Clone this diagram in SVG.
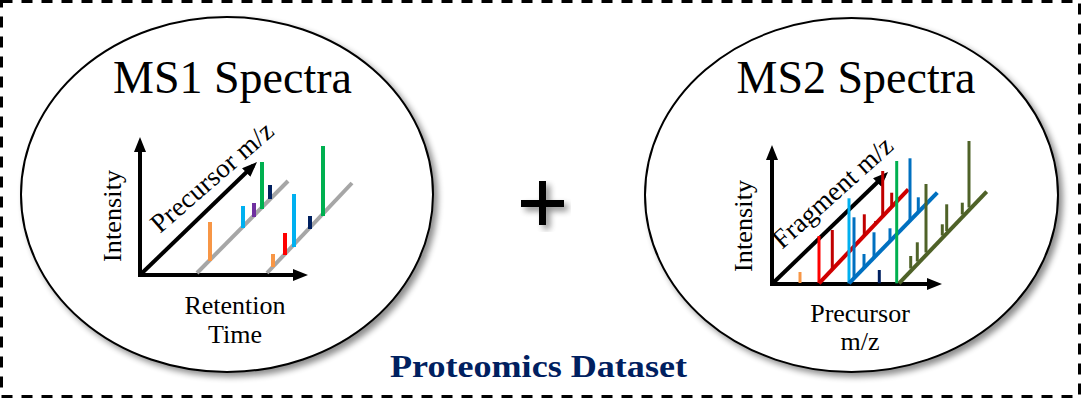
<svg xmlns="http://www.w3.org/2000/svg" width="1083" height="406" viewBox="0 0 1083 406">
  <style>
    .title { font-family: "Liberation Serif", "Times New Roman", serif; font-size: 46px; fill: #000; text-anchor: middle; }
    .lbl { font-family: "Liberation Serif", "Times New Roman", serif; font-size: 26px; fill: #000; text-anchor: middle; }
    .diag { font-family: "Liberation Serif", "Times New Roman", serif; font-size: 27px; fill: #000; }
    .caption { font-family: "Liberation Serif", "Times New Roman", serif; font-size: 31px; font-weight: bold; fill: #002060; text-anchor: middle; }
    .axis { fill: none; stroke: #000; stroke-width: 4; stroke-linejoin: miter; }
    .bubble { fill: #fff; stroke: #000; stroke-width: 2; filter: url(#shadow); }
    .base { stroke-width: 4; fill: none; }
    .bar { stroke-width: 4; }
    .thin { stroke-width: 3; }
  </style>
  <defs>
    <filter id="shadow" x="-10%" y="-10%" width="125%" height="125%">
      <feGaussianBlur in="SourceAlpha" stdDeviation="3"/>
      <feOffset dx="4" dy="4" result="off"/>
      <feComponentTransfer><feFuncA type="linear" slope="0.45"/></feComponentTransfer>
      <feMerge><feMergeNode/><feMergeNode in="SourceGraphic"/></feMerge>
    </filter>
    <marker id="head" markerWidth="15" markerHeight="12" refX="10" refY="6" orient="auto-start-reverse" markerUnits="userSpaceOnUse">
      <path d="M0,0 L15,6 L0,12 z" fill="#000"/>
    </marker>
  </defs>

  <!-- dashed frame -->
  <rect id="frame" x="1.5" y="1.5" width="1078" height="395" fill="none" stroke="#000" stroke-width="3" stroke-dasharray="11 9"/>

  <!-- MS1 node -->
  <g id="ms1">
    <ellipse class="bubble" cx="227" cy="194.5" rx="206" ry="177.5"/>
    <text class="title" x="232.5" y="93">MS1 Spectra</text>
    <g id="ms1-plot">
      <polyline class="axis" points="140,142 140,275 303,275" marker-start="url(#head)" marker-end="url(#head)"/>
      <line class="axis" x1="140" y1="275" x2="253.4" y2="165.5" marker-end="url(#head)"/>
      <line class="base" stroke="#A6A6A6" x1="197" y1="273" x2="288" y2="181"/>
      <line class="base" stroke="#A6A6A6" x1="267" y1="273" x2="352" y2="183"/>
      <line class="bar" stroke="#F79646" x1="210" y1="222" x2="210" y2="261"/>
      <line class="bar" stroke="#00B0F0" x1="243" y1="206" x2="243" y2="228"/>
      <line class="bar" stroke="#7030A0" x1="254" y1="203" x2="254" y2="217"/>
      <line class="bar" stroke="#00B050" x1="262" y1="162" x2="262" y2="209"/>
      <line class="bar" stroke="#002060" x1="270" y1="185" x2="270" y2="199"/>
      <line class="bar" stroke="#F79646" x1="273" y1="254" x2="273" y2="267"/>
      <line class="bar" stroke="#FF0000" x1="285" y1="233" x2="285" y2="255"/>
      <line class="bar" stroke="#00B0F0" x1="294" y1="194" x2="294" y2="247"/>
      <line class="bar" stroke="#002060" x1="310" y1="216" x2="310" y2="229"/>
      <line class="bar" stroke="#00B050" x1="323" y1="146" x2="323" y2="216"/>
      <text class="lbl" transform="translate(121,216) rotate(-90)" textLength="92">Intensity</text>
      <text class="diag" transform="translate(160,234) rotate(-41)" textLength="153">Precursor m/z</text>
      <text class="lbl" x="235" y="314">Retention</text>
      <text class="lbl" x="235" y="343">Time</text>
    </g>
  </g>

  <!-- plus sign -->
  <g id="plus">
    <path d="M539,181 H546 V200 H564 V207 H546 V225 H539 V207 H521 V200 H539 Z" fill="#000" filter="url(#shadow)"/>
  </g>

  <!-- MS2 node -->
  <g id="ms2">
    <ellipse class="bubble" cx="851.5" cy="195" rx="206.5" ry="177"/>
    <text class="title" x="856" y="93">MS2 Spectra</text>
    <g id="ms2-plot">
      <polyline class="axis" points="772,150 772,284 937,284" marker-start="url(#head)" marker-end="url(#head)"/>
      <line class="axis" x1="772" y1="284" x2="884.4" y2="175.5" marker-end="url(#head)"/>
      <line class="thin" stroke="#F79646" x1="800" y1="272" x2="800" y2="283"/>
      <!-- fragment series 1 -->
      <line class="thin" stroke="#FF0000" x1="819" y1="236" x2="819" y2="283"/>
      <line class="base" stroke="#D00000" x1="819" y1="283.3" x2="908.3" y2="189.3"/>
      <line class="thin" stroke="#C00000" x1="832.3" y1="230" x2="832.3" y2="269.5"/>
      <line class="thin" stroke="#C00000" x1="864.3" y1="214.3" x2="864.3" y2="236"/>
      <line class="thin" stroke="#C00000" x1="875.7" y1="221" x2="875.7" y2="224"/>
      <line class="thin" stroke="#C00000" x1="882.7" y1="171" x2="882.7" y2="216.5"/>
      <line class="thin" stroke="#C00000" x1="891.7" y1="192.7" x2="891.7" y2="207"/>
      <!-- fragment series 2 -->
      <line class="thin" stroke="#00B0F0" x1="849" y1="198.3" x2="849" y2="283.3"/>
      <line class="base" stroke="#0070C0" x1="849" y1="283.3" x2="937.3" y2="192.7"/>
      <line class="thin" stroke="#0070C0" x1="854" y1="217.3" x2="854" y2="278.5"/>
      <line class="thin" stroke="#0070C0" x1="864" y1="254" x2="864" y2="268.5"/>
      <line class="thin" stroke="#0070C0" x1="874" y1="232.3" x2="874" y2="258"/>
      <line class="thin" stroke="#0070C0" x1="890" y1="228.3" x2="890" y2="241.5"/>
      <line class="thin" stroke="#0070C0" x1="910" y1="158.3" x2="910" y2="221"/>
      <line class="thin" stroke="#0070C0" x1="918.3" y1="197.3" x2="918.3" y2="212.5"/>
      <line class="thin" stroke="#002060" x1="879.3" y1="270" x2="879.3" y2="283.3"/>
      <line class="thin" stroke="#00B050" x1="896.7" y1="161" x2="896.7" y2="283.3"/>
      <!-- fragment series 3 -->
      <line class="base" stroke="#4F6228" x1="899" y1="283.3" x2="986.7" y2="191.7"/>
      <line class="thin" stroke="#4F6228" x1="910.7" y1="256" x2="910.7" y2="268.5"/>
      <line class="thin" stroke="#4F6228" x1="917.3" y1="242.3" x2="917.3" y2="261.5"/>
      <line class="thin" stroke="#4F6228" x1="926" y1="184" x2="926" y2="252.5"/>
      <line class="thin" stroke="#4F6228" x1="942.3" y1="224.3" x2="942.3" y2="235.5"/>
      <line class="thin" stroke="#4F6228" x1="946.7" y1="204.3" x2="946.7" y2="231"/>
      <line class="thin" stroke="#4F6228" x1="962.3" y1="202.7" x2="962.3" y2="214.5"/>
      <line class="thin" stroke="#4F6228" x1="969" y1="141" x2="969" y2="207.5"/>
      <text class="lbl" transform="translate(752,226) rotate(-90)" textLength="92">Intensity</text>
      <text class="diag" transform="translate(782,250) rotate(-42)" textLength="152">Fragment m/z</text>
      <text class="lbl" x="860" y="322">Precursor</text>
      <text class="lbl" x="860" y="350">m/z</text>
    </g>
  </g>

  <!-- caption -->
  <text class="caption" x="538.5" y="377" textLength="297" lengthAdjust="spacingAndGlyphs">Proteomics Dataset</text>

  <!-- connectors: none drawn between nodes -->
  <g id="connectors"/>
</svg>
